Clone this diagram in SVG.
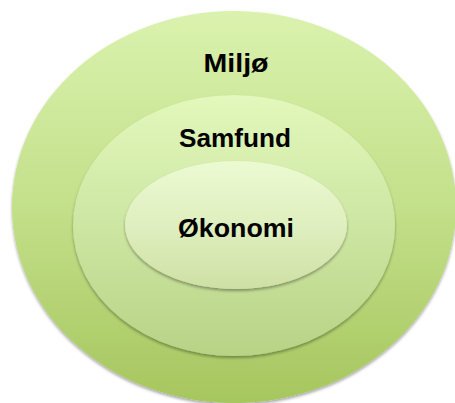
<svg xmlns="http://www.w3.org/2000/svg" width="455" height="403" viewBox="0 0 455 403">
  <defs>
    <linearGradient id="gOuter" x1="0" y1="0" x2="0" y2="1">
      <stop offset="0" stop-color="#daf2ae"/>
      <stop offset="0.5" stop-color="#c3e08a"/>
      <stop offset="1" stop-color="#a6c65e"/>
    </linearGradient>
    <linearGradient id="gMid" x1="0" y1="0" x2="0" y2="1">
      <stop offset="0" stop-color="#e2f8bc"/>
      <stop offset="0.5" stop-color="#cde6a2"/>
      <stop offset="1" stop-color="#b8d386"/>
    </linearGradient>
    <linearGradient id="gInner" x1="0" y1="0" x2="0" y2="1">
      <stop offset="0" stop-color="#ecfad2"/>
      <stop offset="0.5" stop-color="#dfefbf"/>
      <stop offset="1" stop-color="#cfe0a5"/>
    </linearGradient>
    <filter id="shadow" x="-10%" y="-10%" width="120%" height="125%">
      <feDropShadow dx="0" dy="2" stdDeviation="1.5" flood-color="#000" flood-opacity="0.35"/>
    </filter>
  </defs>
  <style>
    .lbl { font-family: "Liberation Sans", Arial, sans-serif; font-weight: bold; font-size: 25px; fill: #000; text-anchor: middle; }
  </style>
  <rect width="455" height="403" fill="#ffffff"/>
  <g id="miljo">
    <ellipse cx="234" cy="207" rx="222" ry="196" fill="url(#gOuter)" filter="url(#shadow)"/>
    <text class="lbl" x="236" y="72" textLength="65" lengthAdjust="spacingAndGlyphs">Miljø</text>
  </g>
  <g id="samfund">
    <ellipse cx="234" cy="225.5" rx="161" ry="130.5" fill="url(#gMid)" filter="url(#shadow)"/>
    <text class="lbl" x="235" y="147" textLength="112" lengthAdjust="spacingAndGlyphs">Samfund</text>
  </g>
  <g id="okonomi">
    <ellipse cx="236" cy="225" rx="111" ry="64" fill="url(#gInner)" filter="url(#shadow)"/>
    <text class="lbl" x="236" y="237" textLength="116" lengthAdjust="spacingAndGlyphs">Økonomi</text>
  </g>
  <g id="connectors"/>
</svg>
